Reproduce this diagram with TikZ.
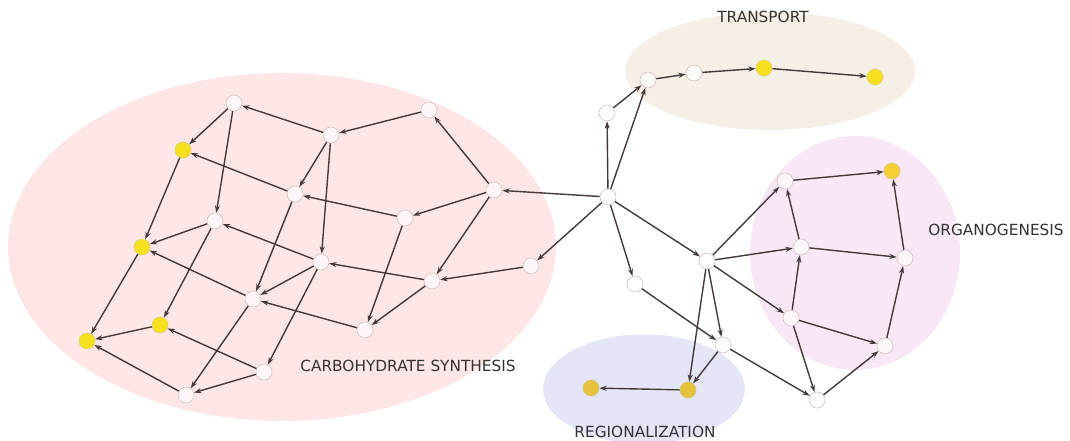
\documentclass[tikz,border=0pt]{standalone}
\usepackage{fontspec}
\setmainfont{DejaVu Sans}
\usetikzlibrary{arrows.meta}
\definecolor{carbo}{HTML}{FEE6E6}
\definecolor{trans}{HTML}{F5EFE6}
\definecolor{organo}{HTML}{F8E8F6}
\definecolor{region}{HTML}{E4E6F8}
\definecolor{ndborder}{HTML}{D4C4C4}
\definecolor{edgecol}{HTML}{433A3A}
\definecolor{yel}{HTML}{F7E11E}
\definecolor{yelo}{HTML}{F6CF33}
\definecolor{gold}{HTML}{E6C23A}
\definecolor{txt}{HTML}{333333}
\begin{document}
\begin{tikzpicture}[x=0.75pt,y=-0.75pt,
  nd/.style={circle,minimum size=12pt,inner sep=0pt,draw=ndborder,line width=0.5pt,fill=white,fill opacity=0.65},
  yn/.style={nd,fill=yel,fill opacity=1,draw=yel!80!black!60},
  on/.style={nd,fill=yelo,fill opacity=1,draw=yelo!80!black!60},
  gn/.style={nd,fill=gold,fill opacity=1,draw=gold!80!black!60},
  ed/.style={draw=edgecol,line width=1.05pt,-{Stealth[length=5.5pt,width=3.8pt]}},
  lab/.style={text=txt,font=\fontsize{11.5pt}{13pt}\selectfont,inner sep=0pt}
]
\clip (0,0) rectangle (1070,441);
\useasboundingbox (0,0) rectangle (1070,441);
% regions
\fill[carbo] (282,247) ellipse [x radius=205.5pt, y radius=130.5pt];
\fill[trans] (770,71) ellipse [x radius=108.75pt, y radius=44.25pt];
\fill[organo] (855,253) ellipse [x radius=78.75pt, y radius=87.75pt];
\fill[region] (644,389) ellipse [x radius=75.75pt, y radius=41pt];
% labels
\node[lab] (lt) at (763,17) {TRANSPORT};
\node[lab] (lc) at (408,366) {CARBOHYDRATE SYNTHESIS};
\node[lab] (lo) at (996,230) {ORGANOGENESIS};
\node[lab] (lr) at (645,432) {REGIONALIZATION};
% hub
\node[nd] (H) at (608,197) {};
% carbohydrate
\node[nd] (c1) at (234,103) {};
\node[nd] (c2) at (429,110) {};
\node[nd] (c3) at (331,135) {};
\node[yn] (c4) at (183,150) {};
\node[nd] (c5) at (295,194) {};
\node[nd] (c6) at (494,190) {};
\node[nd] (c7) at (215,221) {};
\node[nd] (c8) at (405,218) {};
\node[yn] (c9) at (142,247) {};
\node[nd] (c10) at (321,262) {};
\node[nd] (c11) at (531,266) {};
\node[nd] (c12) at (432,281) {};
\node[nd] (c13) at (253,299) {};
\node[yn] (c14) at (160,325) {};
\node[nd] (c15) at (365,330) {};
\node[yn] (c16) at (87,341) {};
\node[nd] (c17) at (264,372) {};
\node[nd] (c18) at (186,395) {};
% transport
\node[nd] (t0) at (607,113) {};
\node[nd] (t1) at (648,80) {};
\node[nd] (t2) at (694,73) {};
\node[yn] (t3) at (764,68) {};
\node[yn] (t4) at (875,77) {};
% right side
\node[nd] (R) at (707,261) {};
\node[nd] (s1) at (635,284) {};
\node[nd] (s2) at (723,345) {};
\node[gn] (g1) at (688,390) {};
\node[gn] (g2) at (591,388) {};
\node[nd] (b) at (817,400) {};
% organogenesis
\node[nd] (o1) at (785,181) {};
\node[on] (o2) at (892,171) {};
\node[nd] (o3) at (801,247) {};
\node[nd] (o4) at (905,258) {};
\node[nd] (o5) at (791,318) {};
\node[nd] (o6) at (885,346) {};
% edges: hub
\draw[ed] (H) -- (c6);
\draw[ed] (H) -- (c11);
\draw[ed] (H) -- (t0);
\draw[ed] (H) -- (t1);
\draw[ed] (H) -- (R);
\draw[ed] (H) -- (s1);
% carbohydrate edges
\draw[ed] (c11) -- (c12);
\draw[ed] (c6) -- (c2);
\draw[ed] (c6) -- (c8);
\draw[ed] (c6) -- (c12);
\draw[ed] (c2) -- (c3);
\draw[ed] (c3) -- (c1);
\draw[ed] (c3) -- (c5);
\draw[ed] (c3) -- (c10);
\draw[ed] (c1) -- (c4);
\draw[ed] (c1) -- (c7);
\draw[ed] (c5) -- (c4);
\draw[ed] (c5) -- (c13);
\draw[ed] (c8) -- (c5);
\draw[ed] (c8) -- (c15);
\draw[ed] (c12) -- (c10);
\draw[ed] (c12) -- (c15);
\draw[ed] (c10) -- (c13);
\draw[ed] (c10) -- (c17);
\draw[ed] (c10) -- (c7);
\draw[ed] (c7) -- (c9);
\draw[ed] (c7) -- (c14);
\draw[ed] (c4) -- (c9);
\draw[ed] (c9) -- (c16);
\draw[ed] (c13) -- (c9);
\draw[ed] (c15) -- (c13);
\draw[ed] (c13) -- (c18);
\draw[ed] (c17) -- (c18);
\draw[ed] (c17) -- (c14);
\draw[ed] (c14) -- (c16);
\draw[ed] (c18) -- (c16);
% transport edges
\draw[ed] (t0) -- (t1);
\draw[ed] (t1) -- (t2);
\draw[ed] (t2) -- (t3);
\draw[ed] (t3) -- (t4);
% right side edges
\draw[ed] (s1) -- (s2);
\draw[ed] (R) -- (s2);
\draw[ed] (R) -- (g1);
\draw[ed] (s2) -- (g1);
\draw[ed] (g1) -- (g2);
\draw[ed] (s2) -- (b);
\draw[ed] (R) -- (o1);
\draw[ed] (R) -- (o3);
\draw[ed] (R) -- (o5);
\draw[ed] (o1) -- (o2);
\draw[ed] (o3) -- (o1);
\draw[ed] (o3) -- (o4);
\draw[ed] (o4) -- (o2);
\draw[ed] (o5) -- (o3);
\draw[ed] (o5) -- (o6);
\draw[ed] (o6) -- (o4);
\draw[ed] (o5) -- (b);
\draw[ed] (b) -- (o6);
\end{tikzpicture}
\end{document}
